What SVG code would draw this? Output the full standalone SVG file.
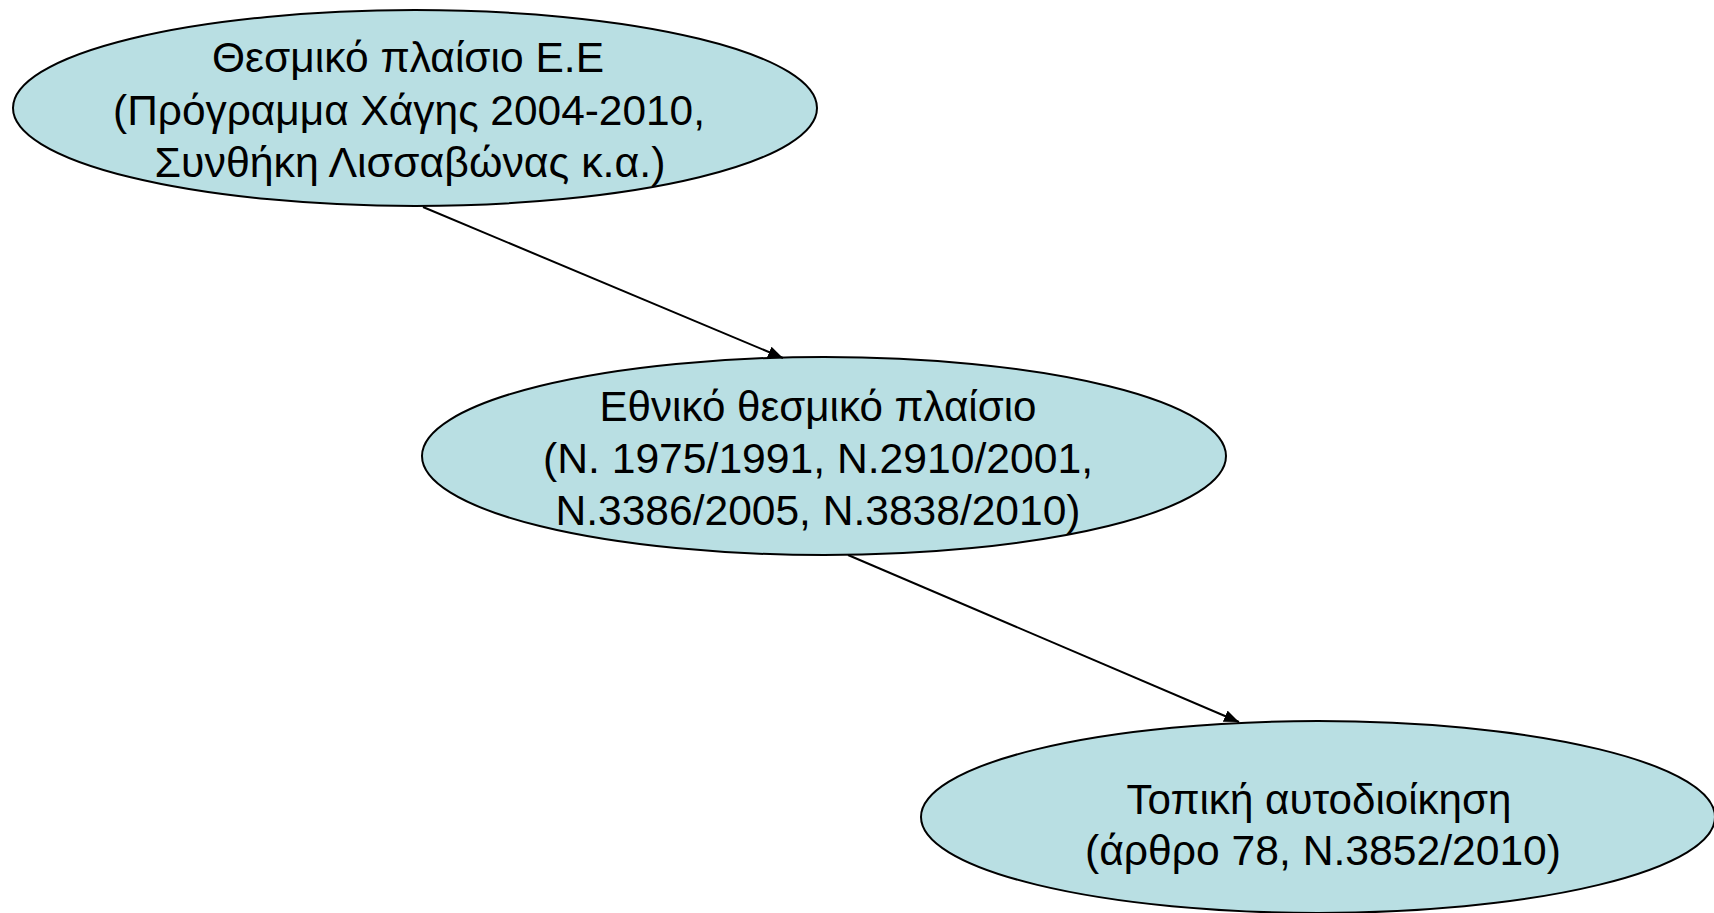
<svg xmlns="http://www.w3.org/2000/svg" width="1714" height="913" viewBox="0 0 1714 913">
<style>
.node ellipse{fill:#b9dfe3;stroke:#000;stroke-width:2}
.node text{font-family:"Liberation Sans",Arial,sans-serif;font-size:42px;fill:#000;text-anchor:middle}
.conn line{stroke:#000;stroke-width:2;fill:none}
</style>
<defs>
<marker id="arr" viewBox="0 0 15 12" refX="15" refY="6" markerWidth="15" markerHeight="12" markerUnits="userSpaceOnUse" orient="auto">
<path d="M0,0 L15,6 L0,12 z" fill="#000"/>
</marker>
</defs>
<g id="n1" class="node">
<ellipse cx="415" cy="108" rx="402" ry="98"/>
<text x="408" y="72" textLength="392" lengthAdjust="spacingAndGlyphs">Θεσμικό πλαίσιο Ε.Ε</text>
<text x="409" y="125" textLength="592" lengthAdjust="spacingAndGlyphs">(Πρόγραμμα Χάγης 2004-2010,</text>
<text x="410" y="177" textLength="511" lengthAdjust="spacingAndGlyphs">Συνθήκη Λισσαβώνας κ.α.)</text>
</g>
<g id="n2" class="node">
<ellipse cx="824" cy="456" rx="402" ry="99"/>
<text x="818" y="421" textLength="437" lengthAdjust="spacingAndGlyphs">Εθνικό θεσμικό πλαίσιο</text>
<text x="818" y="473" textLength="550" lengthAdjust="spacingAndGlyphs">(Ν. 1975/1991, Ν.2910/2001,</text>
<text x="818" y="525" textLength="525" lengthAdjust="spacingAndGlyphs">Ν.3386/2005, Ν.3838/2010)</text>
</g>
<g id="n3" class="node">
<ellipse cx="1318" cy="817" rx="397" ry="96"/>
<text x="1319" y="814" textLength="385" lengthAdjust="spacingAndGlyphs">Τοπική αυτοδιοίκηση</text>
<text x="1323" y="865" textLength="476" lengthAdjust="spacingAndGlyphs">(άρθρο 78, Ν.3852/2010)</text>
</g>
<g id="connectors" class="conn">
<line x1="423" y1="207" x2="783" y2="358" marker-end="url(#arr)"/>
<line x1="848" y1="555" x2="1239" y2="722" marker-end="url(#arr)"/>
</g>
</svg>
